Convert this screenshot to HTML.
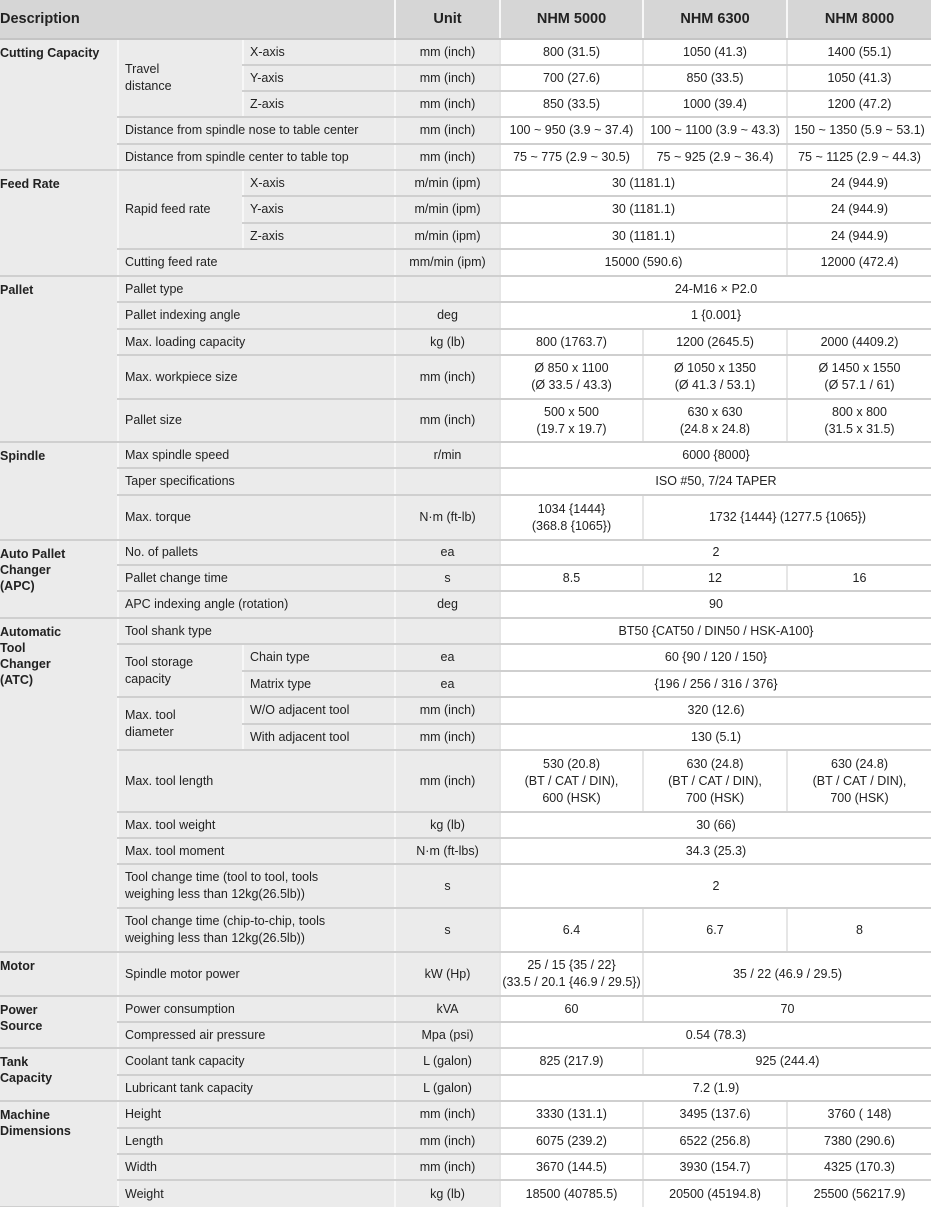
<!DOCTYPE html>
<html><head><meta charset="utf-8"><style>
html,body{margin:0;padding:0;background:#fff;width:931px;height:1207px;overflow:hidden}
table{border-collapse:collapse;table-layout:fixed;width:931px;font-family:"Liberation Sans",sans-serif;font-size:12.5px;color:#222}
td,th{padding:0 6px;border-bottom:2px solid #cfcfcf;border-left:2px solid #f7f7f7;line-height:17px;vertical-align:middle;overflow:hidden;white-space:nowrap}
th{background:#d6d6d6;font-size:14.5px;font-weight:bold;text-align:center;height:37px;border-bottom:2px solid #c4c4c4}
th.l{text-align:left;padding-left:0;border-left:none}
td.g{background:#ebebeb;font-weight:bold;vertical-align:top;padding:5px 0 0 0;border-left:none;white-space:nowrap;line-height:16px}
td.d{background:#ebebeb}
td.u{background:#ebebeb;text-align:center}
td.v{background:#fff;text-align:center;border-left:2px solid #e6e6e6;padding:0 1px}
tr{height:26px}
tr.t{height:44px}
</style></head><body>
<table>
<colgroup><col style="width:118px"><col style="width:125px"><col style="width:152px"><col style="width:105px"><col style="width:143px"><col style="width:144px"><col style="width:144px"></colgroup>
<tr style="height:39px"><th class="l" colspan="3">Description</th><th>Unit</th><th>NHM 5000</th><th>NHM 6300</th><th>NHM 8000</th></tr>

<tr><td class="g" rowspan="5">Cutting Capacity</td><td class="d" rowspan="3" style="white-space:normal">Travel<br>distance</td><td class="d">X-axis</td><td class="u">mm (inch)</td><td class="v">800 (31.5)</td><td class="v">1050 (41.3)</td><td class="v">1400 (55.1)</td></tr>
<tr><td class="d">Y-axis</td><td class="u">mm (inch)</td><td class="v">700 (27.6)</td><td class="v">850 (33.5)</td><td class="v">1050 (41.3)</td></tr>
<tr><td class="d">Z-axis</td><td class="u">mm (inch)</td><td class="v">850 (33.5)</td><td class="v">1000 (39.4)</td><td class="v">1200 (47.2)</td></tr>
<tr style="height:27px"><td class="d" colspan="2">Distance from spindle nose to table center</td><td class="u">mm (inch)</td><td class="v">100 ~ 950 (3.9 ~ 37.4)</td><td class="v">100 ~ 1100 (3.9 ~ 43.3)</td><td class="v">150 ~ 1350 (5.9 ~ 53.1)</td></tr>
<tr><td class="d" colspan="2">Distance from spindle center to table top</td><td class="u">mm (inch)</td><td class="v">75 ~ 775 (2.9 ~ 30.5)</td><td class="v">75 ~ 925 (2.9 ~ 36.4)</td><td class="v">75 ~ 1125 (2.9 ~ 44.3)</td></tr>

<tr><td class="g" rowspan="4">Feed Rate</td><td class="d" rowspan="3">Rapid feed rate</td><td class="d">X-axis</td><td class="u">m/min (ipm)</td><td class="v" colspan="2">30 (1181.1)</td><td class="v">24 (944.9)</td></tr>
<tr style="height:27px"><td class="d">Y-axis</td><td class="u">m/min (ipm)</td><td class="v" colspan="2">30 (1181.1)</td><td class="v">24 (944.9)</td></tr>
<tr><td class="d">Z-axis</td><td class="u">m/min (ipm)</td><td class="v" colspan="2">30 (1181.1)</td><td class="v">24 (944.9)</td></tr>
<tr style="height:27px"><td class="d" colspan="2">Cutting feed rate</td><td class="u">mm/min (ipm)</td><td class="v" colspan="2">15000 (590.6)</td><td class="v">12000 (472.4)</td></tr>

<tr><td class="g" rowspan="5">Pallet</td><td class="d" colspan="2">Pallet type</td><td class="u"></td><td class="v" colspan="3">24-M16 × P2.0</td></tr>
<tr style="height:27px"><td class="d" colspan="2">Pallet indexing angle</td><td class="u">deg</td><td class="v" colspan="3">1 {0.001}</td></tr>
<tr><td class="d" colspan="2">Max. loading capacity</td><td class="u">kg (lb)</td><td class="v">800 (1763.7)</td><td class="v">1200 (2645.5)</td><td class="v">2000 (4409.2)</td></tr>
<tr class="t"><td class="d" colspan="2">Max. workpiece size</td><td class="u">mm (inch)</td><td class="v">Ø 850 x 1100<br>(Ø 33.5 / 43.3)</td><td class="v">Ø 1050 x 1350<br>(Ø 41.3 / 53.1)</td><td class="v">Ø 1450 x 1550<br>(Ø 57.1 / 61)</td></tr>
<tr style="height:43px"><td class="d" colspan="2">Pallet size</td><td class="u">mm (inch)</td><td class="v">500 x 500<br>(19.7 x 19.7)</td><td class="v">630 x 630<br>(24.8 x 24.8)</td><td class="v">800 x 800<br>(31.5 x 31.5)</td></tr>

<tr><td class="g" rowspan="3">Spindle</td><td class="d" colspan="2">Max spindle speed</td><td class="u">r/min</td><td class="v" colspan="3">6000 {8000}</td></tr>
<tr style="height:27px"><td class="d" colspan="2">Taper specifications</td><td class="u"></td><td class="v" colspan="3">ISO #50, 7/24 TAPER</td></tr>
<tr style="height:45px"><td class="d" colspan="2">Max. torque</td><td class="u">N·m (ft-lb)</td><td class="v">1034 {1444}<br>(368.8 {1065})</td><td class="v" colspan="2">1732 {1444} (1277.5 {1065})</td></tr>

<tr style="height:25px"><td class="g" rowspan="3">Auto Pallet<br>Changer<br>(APC)</td><td class="d" colspan="2">No. of pallets</td><td class="u">ea</td><td class="v" colspan="3">2</td></tr>
<tr><td class="d" colspan="2">Pallet change time</td><td class="u">s</td><td class="v">8.5</td><td class="v">12</td><td class="v">16</td></tr>
<tr style="height:27px"><td class="d" colspan="2">APC indexing angle (rotation)</td><td class="u">deg</td><td class="v" colspan="3">90</td></tr>

<tr><td class="g" rowspan="10">Automatic<br>Tool<br>Changer<br>(ATC)</td><td class="d" colspan="2">Tool shank type</td><td class="u"></td><td class="v" colspan="3">BT50 {CAT50 / DIN50 / HSK-A100}</td></tr>
<tr style="height:27px"><td class="d" rowspan="2">Tool storage<br>capacity</td><td class="d">Chain type</td><td class="u">ea</td><td class="v" colspan="3">60 {90 / 120 / 150}</td></tr>
<tr><td class="d">Matrix type</td><td class="u">ea</td><td class="v" colspan="3">{196 / 256 / 316 / 376}</td></tr>
<tr style="height:27px"><td class="d" rowspan="2">Max. tool<br>diameter</td><td class="d">W/O adjacent tool</td><td class="u">mm (inch)</td><td class="v" colspan="3">320 (12.6)</td></tr>
<tr><td class="d">With adjacent tool</td><td class="u">mm (inch)</td><td class="v" colspan="3">130 (5.1)</td></tr>
<tr style="height:62px"><td class="d" colspan="2">Max. tool length</td><td class="u">mm (inch)</td><td class="v">530 (20.8)<br>(BT / CAT / DIN),<br>600 (HSK)</td><td class="v">630 (24.8)<br>(BT / CAT / DIN),<br>700 (HSK)</td><td class="v">630 (24.8)<br>(BT / CAT / DIN),<br>700 (HSK)</td></tr>
<tr><td class="d" colspan="2">Max. tool weight</td><td class="u">kg (lb)</td><td class="v" colspan="3">30 (66)</td></tr>
<tr><td class="d" colspan="2">Max. tool moment</td><td class="u">N·m (ft-lbs)</td><td class="v" colspan="3">34.3 (25.3)</td></tr>
<tr class="t"><td class="d" colspan="2">Tool change time (tool to tool, tools<br>weighing less than 12kg(26.5lb))</td><td class="u">s</td><td class="v" colspan="3">2</td></tr>
<tr class="t"><td class="d" colspan="2">Tool change time (chip-to-chip, tools<br>weighing less than 12kg(26.5lb))</td><td class="u">s</td><td class="v">6.4</td><td class="v">6.7</td><td class="v">8</td></tr>

<tr class="t"><td class="g">Motor</td><td class="d" colspan="2">Spindle motor power</td><td class="u">kW (Hp)</td><td class="v">25 / 15 {35 / 22}<br>(33.5 / 20.1 {46.9 / 29.5})</td><td class="v" colspan="2">35 / 22 (46.9 / 29.5)</td></tr>

<tr><td class="g" rowspan="2">Power<br>Source</td><td class="d" colspan="2">Power consumption</td><td class="u">kVA</td><td class="v">60</td><td class="v" colspan="2">70</td></tr>
<tr><td class="d" colspan="2">Compressed air pressure</td><td class="u">Mpa (psi)</td><td class="v" colspan="3">0.54 (78.3)</td></tr>

<tr style="height:27px"><td class="g" rowspan="2">Tank<br>Capacity</td><td class="d" colspan="2">Coolant tank capacity</td><td class="u">L (galon)</td><td class="v">825 (217.9)</td><td class="v" colspan="2">925 (244.4)</td></tr>
<tr><td class="d" colspan="2">Lubricant tank capacity</td><td class="u">L (galon)</td><td class="v" colspan="3">7.2 (1.9)</td></tr>

<tr style="height:27px"><td class="g" rowspan="4">Machine<br>Dimensions</td><td class="d" colspan="2">Height</td><td class="u">mm (inch)</td><td class="v">3330 (131.1)</td><td class="v">3495 (137.6)</td><td class="v">3760 ( 148)</td></tr>
<tr><td class="d" colspan="2">Length</td><td class="u">mm (inch)</td><td class="v">6075 (239.2)</td><td class="v">6522 (256.8)</td><td class="v">7380 (290.6)</td></tr>
<tr><td class="d" colspan="2">Width</td><td class="u">mm (inch)</td><td class="v">3670 (144.5)</td><td class="v">3930 (154.7)</td><td class="v">4325 (170.3)</td></tr>
<tr style="height:27px"><td class="d" colspan="2" style="border-bottom:none">Weight</td><td class="u" style="border-bottom:none">kg (lb)</td><td class="v" style="border-bottom:none">18500 (40785.5)</td><td class="v" style="border-bottom:none">20500 (45194.8)</td><td class="v" style="border-bottom:none">25500 (56217.9)</td></tr>
</table>
</body></html>
